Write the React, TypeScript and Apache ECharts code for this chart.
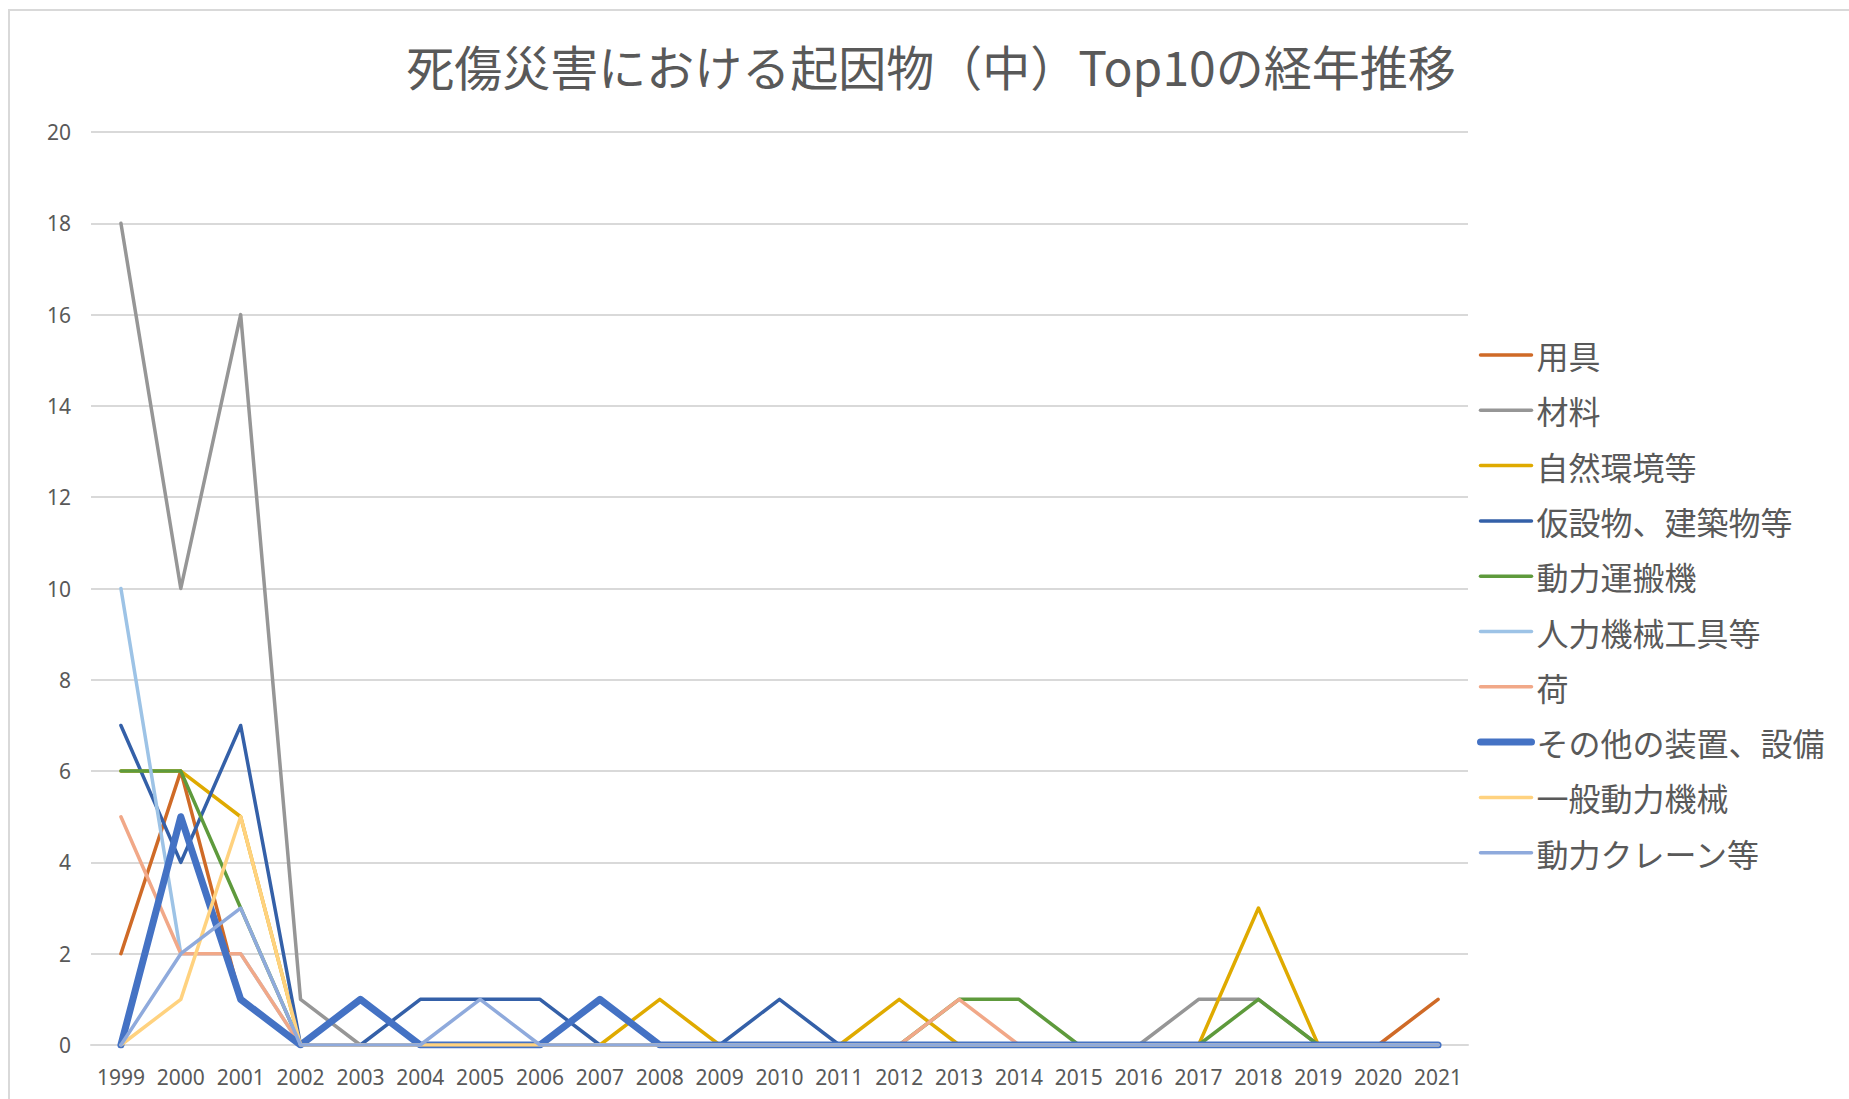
import React, { useEffect, useRef } from "react";
import * as echarts from "echarts";

const years = ["1999","2000","2001","2002","2003","2004","2005","2006","2007","2008","2009","2010","2011","2012","2013","2014","2015","2016","2017","2018","2019","2020","2021"];

const seriesNames = ["用具","材料","自然環境等","仮設物、建築物等","動力運搬機","人力機械工具等","荷","その他の装置、設備","一般動力機械","動力クレーン等"];

const yougu =      [2,6,1,0,0,0,0,0,0,0,0,0,0,0,0,0,0,0,0,0,0,0,1];
const zairyo =     [18,10,16,1,0,0,0,0,0,0,0,0,0,0,0,0,0,0,1,1,0,0,0];
const shizen =     [6,6,5,0,0,0,0,0,0,1,0,0,0,1,0,0,0,0,0,3,0,0,0];
const kasetsu =    [7,4,7,0,0,1,1,1,0,0,0,1,0,0,0,0,0,0,0,0,0,0,0];
const unpan =      [6,6,3,0,0,0,0,0,0,0,0,0,0,0,1,1,0,0,0,1,0,0,0];
const jinryoku =   [10,2,2,0,0,0,0,0,0,0,0,0,0,0,0,0,0,0,0,0,0,0,0];
const ni =         [5,2,2,0,0,0,0,0,0,0,0,0,0,0,1,0,0,0,0,0,0,0,0];
const sonota =     [0,5,1,0,1,0,0,0,1,0,0,0,0,0,0,0,0,0,0,0,0,0,0];
const ippan =      [0,1,5,0,0,0,0,0,0,0,0,0,0,0,0,0,0,0,0,0,0,0,0];
const crane =      [0,2,3,0,0,0,1,0,0,0,0,0,0,0,0,0,0,0,0,0,0,0,0];

const seriesData = [yougu, zairyo, shizen, kasetsu, unpan, jinryoku, ni, sonota, ippan, crane];
const colors = ["#CF6A27","#969696","#DFAA00","#3460A8","#5E9A3C","#9DC3E6","#F1A888","#4472C4","#FFD27F","#8FAADC"];
const widths = [3.5,3.5,3.5,3.5,3.5,3.5,3.5,7,3.5,3.5];

export default function App() {
  const ref = useRef<HTMLDivElement>(null);
  useEffect(() => {
    if (!ref.current) return;
    const chart = echarts.init(ref.current, null, { renderer: "svg" });
    const numFont = "'Noto Sans', 'Noto Sans CJK JP', sans-serif";
    const jpFont = "'Noto Sans CJK JP', 'Noto Sans', sans-serif";
    chart.setOption({
      animation: false,
      backgroundColor: "#ffffff",
      title: {
        text: "死傷災害における起因物（中）Top10の経年推移",
        left: 926,
        top: 36,
        textAlign: "center",
        textStyle: { fontFamily: jpFont, fontSize: 48, fontWeight: "normal", color: "#595959" },
      },
      graphic: [
        {
          type: "rect",
          shape: { x: 9, y: 10, width: 1900, height: 1200 },
          style: { fill: "none", stroke: "#D9D9D9", lineWidth: 2 },
          silent: true,
        },
      ],
      legend: {
        orient: "vertical",
        left: 1472,
        top: 334,
        itemWidth: 51,
        itemHeight: 20,
        itemGap: 23.3,
        data: seriesNames.map((n, i) => ({
          name: n,
          lineStyle: { color: colors[i], width: widths[i] },
        })),
        itemStyle: { opacity: 0 },
        textStyle: { fontFamily: jpFont, fontSize: 32, lineHeight: 32, color: "#595959" },
      },
      grid: { left: 91, right: 381, top: 132, bottom: 54, containLabel: false },
      xAxis: {
        type: "category",
        data: years,
        boundaryGap: true,
        axisLine: { show: true, lineStyle: { color: "#D9D9D9", width: 2 } },
        axisTick: { show: false },
        axisLabel: { color: "#595959", fontFamily: numFont, fontSize: 21, margin: 21, interval: 0 },
      },
      yAxis: {
        type: "value",
        min: 0,
        max: 20,
        interval: 2,
        axisLine: { show: false },
        axisTick: { show: false },
        splitLine: { lineStyle: { color: "#D9D9D9", width: 2 } },
        axisLabel: { color: "#595959", fontFamily: numFont, fontSize: 21, margin: 20 },
      },
      series: seriesNames.map((name, i) => ({
        name,
        type: "line",
        data: seriesData[i],
        symbol: "none",
        showSymbol: false,
        color: colors[i],
        lineStyle: { color: colors[i], width: widths[i], cap: "round", join: "round" },
        itemStyle: { color: colors[i] },
      })),
    });
    return () => chart.dispose();
  }, []);
  return (
    <div style={{ position: "fixed", left: 0, top: 0, width: 1849, height: 1099, background: "#fff" }}>
      <div ref={ref} style={{ width: 1849, height: 1099 }} />
    </div>
  );
}
